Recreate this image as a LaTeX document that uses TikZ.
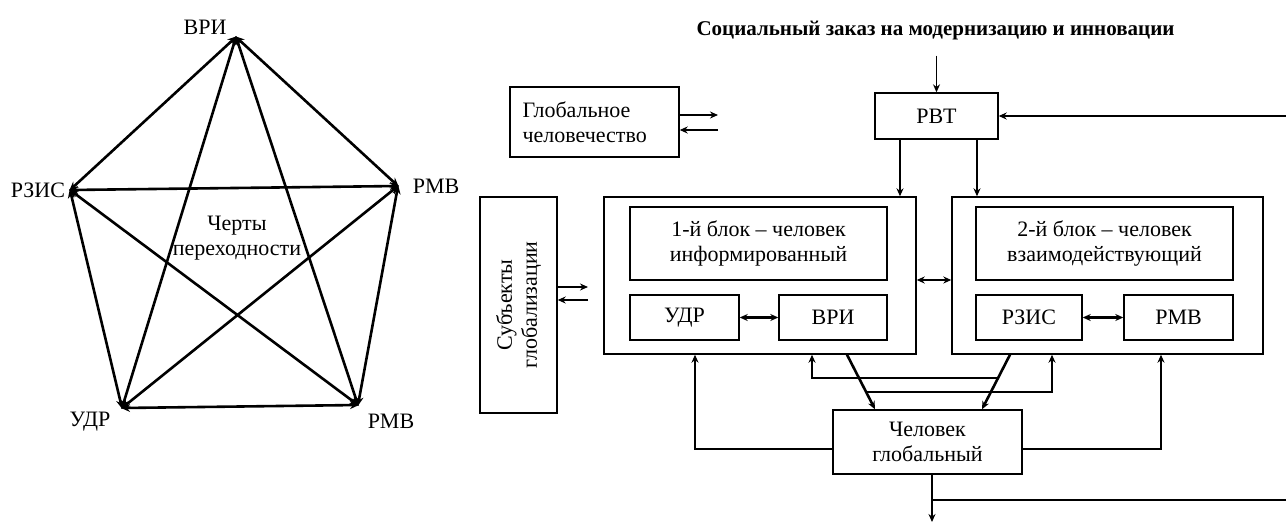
\documentclass[tikz,border=0pt]{standalone}
\usepackage{fontspec}
\setmainfont{Liberation Serif}
\usetikzlibrary{arrows.meta}
\begin{document}
\begin{tikzpicture}[x=1pt,y=-1pt,
  txt/.style={font=\fontsize{22}{25}\selectfont, inner sep=0pt, align=center},
  box/.style={draw, line width=1.4pt, inner sep=0pt, align=center, font=\fontsize{22}{25}\selectfont},
  tip/.style={-{Stealth[length=8pt,width=7pt]}},
  tips/.style={{Stealth[length=8pt,width=7pt]}-{Stealth[length=8pt,width=7pt]}},
  thin/.style={line width=1.2pt},
  thk/.style={line width=2.6pt},
  edge/.style={line width=2.6pt, {Stealth[length=9pt,width=8pt]}-{Stealth[length=9pt,width=8pt]}, shorten <=-1pt, shorten >=-1pt}
]
\useasboundingbox (0,0) rectangle (1286,528);

% ---------------- left: pentagon ----------------
\coordinate (p1) at (236,37);
\coordinate (p2) at (398,186);
\coordinate (p3) at (358,405);
\coordinate (p4) at (122,408);
\coordinate (p5) at (70,190);
\node[txt] (l1) at (205,27) {ВРИ};
\node[txt] (l2) at (436,186) {РМВ};
\node[txt] (l3) at (391,421) {РМВ};
\node[txt] (l4) at (90,422) {УДР};
\node[txt] (l5) at (38,190) {РЗИС};
\node[txt] (ct) at (237,238) {Черты\\переходности};
\foreach \a/\b in {p1/p2,p1/p3,p1/p4,p1/p5,p2/p3,p2/p4,p2/p5,p3/p4,p3/p5,p4/p5}
  \draw[edge] (\a) -- (\b);

% ---------------- right: block diagram ----------------
\node[txt, font=\fontsize{21}{25}\selectfont\bfseries] (soc) at (935.5,31) {Социальный заказ на модернизацию и инновации};
\node[box, minimum width=123pt, minimum height=46pt] (rvt) at (936.5,116) {РВТ};
\node[box, minimum width=169pt, minimum height=70pt, align=left, text width=144pt] (glob) at (594.5,122) {Глобальное\\человечество};
\node[box, minimum width=77pt, minimum height=216pt] (subj) at (518.5,305) {};
\node[txt, rotate=90] (subjt) at (subj.center) {Субъекты\\глобализации};
\node[box, minimum width=312pt, minimum height=157pt] (b1) at (760,275.5) {};
\node[box, minimum width=257pt, minimum height=73pt] (b1t) at (758.5,243.5) {1-й блок – человек\\информированный};
\node[box, minimum width=109pt, minimum height=45pt] (udr) at (684.5,317.5) {УДР};
\node[box, minimum width=108pt, minimum height=45pt] (vri) at (833,317.5) {ВРИ};
\node[box, minimum width=311pt, minimum height=157pt] (b2) at (1107.5,275.5) {};
\node[box, minimum width=257pt, minimum height=73pt] (b2t) at (1104.5,243.5) {2-й блок – человек\\взаимодействующий};
\node[box, minimum width=106pt, minimum height=45pt] (rzis) at (1029,317.5) {РЗИС};
\node[box, minimum width=109pt, minimum height=45pt] (rmv) at (1178.5,317.5) {РМВ};
\node[box, minimum width=189pt, minimum height=64pt] (man) at (927.5,442) {Человек\\глобальный};

% free ends
\coordinate (eR1) at (1286,116);
\coordinate (eR2) at (1286,500);
\coordinate (eB) at (932,522);
\coordinate (gA) at (718,115);
\coordinate (gB) at (718,130);
\coordinate (sA) at (588,287);
\coordinate (sB) at (588,300);
\coordinate (j1) at (998,378);
\coordinate (j2) at (866,392);
\coordinate (j3) at (932,500);

% connectors
\draw[thin, tip] ([yshift=-15pt]soc.south -| rvt.north) -- (rvt.north);
\draw[thin, tip] (eR1) -- (rvt.east);
\draw[thk, tip] (rvt.south -| 900,0) -- (b1.north -| 900,0);
\draw[thk, tip] (rvt.south -| 977,0) -- (b2.north -| 977,0);
\draw[thin, tip] (glob.east |- gA) -- (gA);
\draw[thk, tip] (gB) -- (glob.east |- gB);
\draw[thk, tip] (subj.east |- sA) -- (sA);
\draw[thin, tip] (sB) -- (subj.east |- sB);
\draw[thk, tips] (udr) -- (vri);
\draw[thk, tips] (rzis) -- (rmv);
\draw[thk, tips] (b1.east |- 0,280) -- (b2.west |- 0,280);
\draw[thin, tip] (man.west |- 0,449) -| (b1.south -| 695,0);
\draw[thin, tip] (man.east |- 0,449) -| (b2.south -| 1161,0);
\draw[thk, tip] (b1.south -| 847,0) -- (man.north -| 875,0);
\draw[thk, tip] (b2.south -| 1010,0) -- (man.north -| 982,0);
\draw[thin] (j1) -| (812,366);
\draw[thk, tip] (812,366) -- (b1.south -| 812,0);
\draw[thin] (j2) -| (1052,366);
\draw[thk, tip] (1052,366) -- (b2.south -| 1052,0);
\draw[thk, tip] (man.south -| j3) -- (eB);
\draw[thin] (j3) -- (eR2);
\end{tikzpicture}
\end{document}
